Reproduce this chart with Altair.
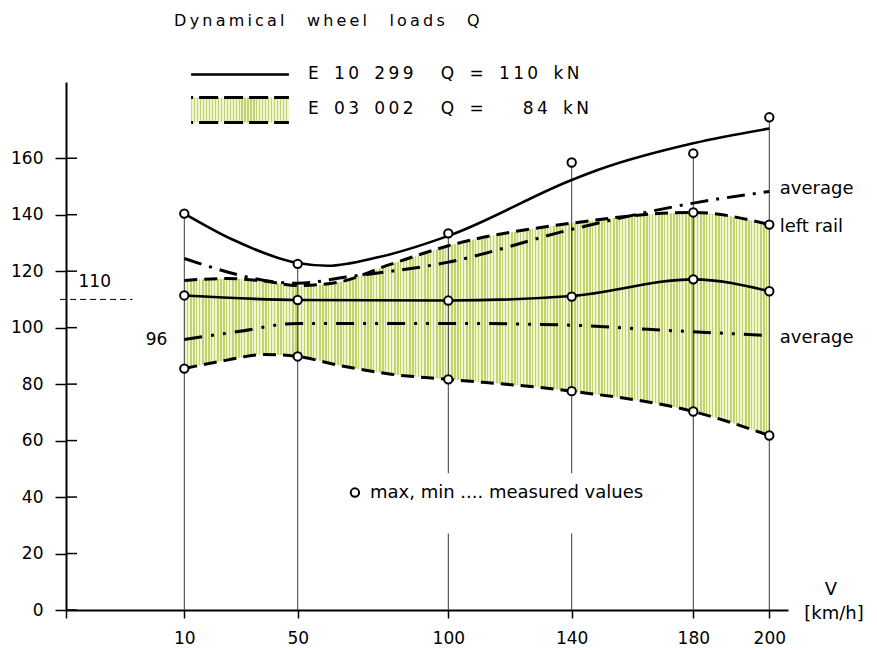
import altair as alt
import pandas as pd

FONT = "DejaVu Sans"

# ---------------- data ----------------
speeds = [10, 50, 100, 140, 180, 200]
meas_max = [140.4, 122.6, 133.4, 158.5, 161.7, 174.5]
meas_mid = [111.4, 109.8, 109.6, 111.0, 117.1, 112.9]
meas_min = [85.5, 89.8, 81.7, 77.5, 70.3, 61.8]
rail_v = [180, 200]
rail_q = [140.8, 136.5]

# E 10 299 (solid)
e10_top_v = [10, 27, 50, 60, 77, 100, 140, 149, 180, 200]
e10_top_q = [140.4, 131.2, 122.9, 121.9, 125.0, 132.5, 152.3, 156.0, 165.3, 170.5]
e10_mid_v = [10, 50, 100, 140, 180, 200]
e10_mid_q = [111.4, 109.8, 109.6, 111.2, 117.1, 112.9]

# E 03 002 band (dashed)
band_v = [10, 25, 38, 50, 63, 81, 100, 140, 180, 200]
band_hi = [116.7, 117.4, 116.5, 114.9, 116.0, 122.5, 129.0, 137.0, 140.8, 136.5]
band_lo = [85.5, 88.5, 90.5, 89.8, 86.8, 83.5, 81.7, 77.5, 70.3, 61.8]

# averages (dash-dot)
avg_hi_v = [10, 50, 66, 100, 140, 180, 200]
avg_hi_q = [124.5, 115.7, 117.9, 123.2, 134.8, 144.1, 148.2]
avg_lo_v = [10, 29, 50, 100, 142, 165, 200]
avg_lo_q = [95.8, 98.6, 101.5, 101.5, 100.8, 99.4, 97.2]

# vertical guide lines (broken around the note text at 100 and 140)
rule_v = [10, 50, 100, 100, 140, 140, 180, 200]
rule_lo = [0, 0, 0, 48.4, 0, 48.4, 0, 0]
rule_hi = [140.4, 122.6, 27.1, 133.4, 27.1, 158.5, 161.7, 174.5]

y_ticks = [0, 20, 40, 60, 80, 100, 120, 140, 160]
x_ticks = [10, 50, 100, 140, 180, 200]

title_text = "Dynamical wheel loads Q"
legend1 = "E 10 299  Q = 110 kN"
legend2 = "E 03 002  Q =   84 kN"

# ---------------- helpers (styling) ----------------
def spaced(s, gap="\u2009", word="\u2002"):
    out = []
    for ch in s:
        out.append(word if ch == " " else ch)
    return gap.join(out)

def stripes(n, c1, c2, frac=0.4):
    stops = []
    for i in range(n):
        a = round(i / n, 6)
        b = round((i + frac) / n, 6)
        c = round((i + 1) / n, 6)
        stops += [alt.GradientStop(offset=a, color=c1), alt.GradientStop(offset=b, color=c1),
                  alt.GradientStop(offset=b, color=c2), alt.GradientStop(offset=c, color=c2)]
    return alt.LinearGradient(gradient="linear", stops=stops, x1=0, x2=1, y1=0, y2=0)

LINE_C = "#c2d36e"
BG_C = "#f2f6d0"

xs = alt.Scale(domain=[-32, 10, 50, 100, 140, 180, 200, 205],
               range=[0, 118.3, 231.7, 382.3, 505.7, 627.3, 703.3, 722],
               nice=False, zero=False)
ys = alt.Scale(domain=[0, 187], nice=False, zero=False)

xaxis = alt.Axis(values=[-32] + x_ticks, labelExpr="datum.value < 0 ? '' : datum.label",
                 tickSize=8, tickWidth=1.5, tickColor="black", domainColor="black", domainWidth=2,
                 labelFont=FONT, labelFontSize=17, labelColor="black", labelPadding=12,
                 grid=False, title=None, labelFlush=False, labelOverlap=False)
yaxis = alt.Axis(values=y_ticks, tickSize=11, tickWidth=1.5, tickColor="black",
                 domainColor="black", domainWidth=2, labelFont=FONT, labelFontSize=17,
                 labelColor="black", labelPadding=12, grid=False, title=None)

def X(f="v"):
    return alt.X(f, type="quantitative", scale=xs, axis=xaxis)

def Y(f="q"):
    return alt.Y(f, type="quantitative", scale=ys, axis=yaxis)

def df(v, q, **kw):
    d = {"v": v, "q": q}
    d.update(kw)
    return pd.DataFrame(d)

layers = []

# band fill
band = pd.DataFrame({"v": band_v, "q": band_hi, "lo": band_lo})
layers.append(alt.Chart(band).mark_area(interpolate="monotone", fill=stripes(195, LINE_C, BG_C),
                                        strokeWidth=0).encode(x=X(), y=Y(), y2=alt.Y2("lo")))

# vertical guide rules
rules = pd.DataFrame({"v": rule_v, "q": rule_lo, "q2": rule_hi})
layers.append(alt.Chart(rules).mark_rule(color="#3a3a3a", strokeWidth=1).encode(
    x=X(), y=Y(), y2=alt.Y2("q2")))

# y tick crosses (right half)
yt = pd.DataFrame({"q": y_ticks})
layers.append(alt.Chart(yt).mark_rule(color="black", strokeWidth=1.5).encode(
    x=alt.value(0), x2=alt.value(11), y=Y()))

# curves
layers.append(alt.Chart(df(e10_top_v, e10_top_q)).mark_line(
    interpolate="monotone", color="black", strokeWidth=2.6).encode(x=X(), y=Y()))
layers.append(alt.Chart(df(e10_mid_v, e10_mid_q)).mark_line(
    interpolate="monotone", color="black", strokeWidth=2.6).encode(x=X(), y=Y()))
layers.append(alt.Chart(df(band_v, band_hi)).mark_line(
    interpolate="monotone", color="black", strokeWidth=3, strokeDash=[13, 7]).encode(x=X(), y=Y()))
layers.append(alt.Chart(df(band_v, band_lo)).mark_line(
    interpolate="monotone", color="black", strokeWidth=3, strokeDash=[13, 7]).encode(x=X(), y=Y()))
layers.append(alt.Chart(df(avg_hi_v, avg_hi_q)).mark_line(
    interpolate="monotone", color="black", strokeWidth=3, strokeDash=[18, 8, 3, 8]).encode(x=X(), y=Y()))
layers.append(alt.Chart(df(avg_lo_v, avg_lo_q)).mark_line(
    interpolate="monotone", color="black", strokeWidth=3,
    strokeDash=[18, 9, 3, 9, 3, 9]).encode(x=X(), y=Y()))

# measured points
pts = pd.concat([df(speeds, meas_max), df(speeds, meas_mid), df(speeds, meas_min),
                 df(rail_v, rail_q), df([69.0], [41.6])], ignore_index=True)
layers.append(alt.Chart(pts).mark_circle(fill="white", stroke="black", strokeWidth=2,
                                         size=70, opacity=1).encode(x=X(), y=Y()))

# 110 reference dashes
layers.append(alt.Chart(pd.DataFrame({"v": [-34.1], "v2": [-8.4], "q": [110]})).mark_rule(
    color="black", strokeWidth=1, strokeDash=[6, 4]).encode(x=X(), x2=alt.X2("v2"), y=Y()))

# legend sample line and box
layers.append(alt.Chart(pd.DataFrame({"v": [12.4], "v2": [46.9], "q": [189.7]})).mark_rule(
    color="black", strokeWidth=2.5).encode(x=X(), x2=alt.X2("v2"), y=Y()))
layers.append(alt.Chart(pd.DataFrame({"v": [12.4], "v2": [46.9], "q": [181.5], "q2": [172.7]})).mark_rect(
    fill=stripes(33, LINE_C, BG_C), strokeWidth=0).encode(x=X(), x2=alt.X2("v2"), y=Y(), y2=alt.Y2("q2")))
layers.append(alt.Chart(pd.DataFrame({"v": [12.4, 12.4], "v2": [46.9, 46.9], "q": [181.5, 172.7]})).mark_rule(
    color="black", strokeWidth=3, strokeDash=[19, 6], strokeDashOffset=17).encode(
    x=X(), x2=alt.X2("v2"), y=Y()))

# texts
def text(v, q, s, size, align="left"):
    return alt.Chart(pd.DataFrame({"v": [v], "q": [q], "t": [s]})).mark_text(
        align=align, baseline="middle", font=FONT, fontSize=size, color="black").encode(
        x=X(), y=Y(), text="t:N")

layers.append(text(59.7, 208.6, spaced(title_text, gap="\u2009", word="\u2003"), 16, "center"))
layers.append(text(53.4, 189.7, spaced(legend1), 17))
layers.append(text(53.4, 177.6, spaced(legend2), 17))
layers.append(text(-21.8, 116.0, "110", 17, "center"))
layers.append(text(4.0, 95.8, "96", 17, "right"))
layers.append(text(202.8, 149.0, "average", 18))
layers.append(text(202.8, 135.5, "left rail", 18))
layers.append(text(202.8, 96.5, "average", 18))
layers.append(text(74.0, 41.6, "max, min ....  measured values", 18))
layers.append(text(216.5, 7.0, "V", 18, "center"))
layers.append(text(217.3, -1.4, "[km/h]", 18, "center"))

chart = alt.layer(*layers).properties(
    width=722, height=528,
    padding={"left": 58, "top": 74, "right": 81, "bottom": 38},
    autosize=alt.AutoSizeParams(type="none"),
    background="white",
).configure_view(stroke=None)

chart.save("out.html", embed_options={"renderer": "svg", "actions": False})
